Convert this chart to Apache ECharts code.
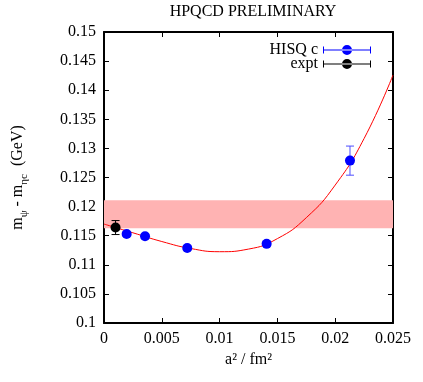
<!DOCTYPE html>
<html>
<head>
<meta charset="utf-8">
<script src="https://cdn.jsdelivr.net/npm/echarts@6/dist/echarts.min.js"></script>
<style>
  html, body { margin: 0; padding: 0; background: #fff; }
  #chart { width: 423px; height: 382px; }
</style>
</head>
<body>
<div id="chart"></div>
<script>
// lattice points: a^2 (fm^2), mass splitting (GeV), error
const hisqX = [0.00196, 0.00355, 0.0072, 0.01407, 0.02128];
const hisqY = [0.1153, 0.1149, 0.1129, 0.1136, 0.1279];
const hisqErr = [0.0004, 0.0004, 0.0004, 0.0004, 0.0025];
// experiment
const exptX = [0.001];
const exptY = [0.1164];
const exptErr = [0.0012];
// fit curve
const fitX = [0, 0.0025, 0.005, 0.0075, 0.01, 0.0125, 0.015, 0.0175, 0.02, 0.0225, 0.025];
const fitY = [0.1170, 0.1155, 0.1140, 0.1128, 0.11225, 0.1127, 0.1145, 0.1181, 0.1237, 0.1317, 0.1426];
// pink band
const band = [0.1163, 0.1211];
const xTicks = [0, 0.005, 0.01, 0.015, 0.02, 0.025];
const yTicks = [0.1, 0.105, 0.11, 0.115, 0.12, 0.125, 0.13, 0.135, 0.14, 0.145, 0.15];

const font = "'Liberation Serif', 'DejaVu Serif', serif";

function zip(xs, ys, es) {
  return xs.map((x, i) => es ? [x, ys[i], es[i]] : [x, ys[i]]);
}

function errorBar(color) {
  return function (params, api) {
    const x = api.value(0), y = api.value(1), e = api.value(2);
    const top = api.coord([x, y + e]);
    const bot = api.coord([x, y - e]);
    const w = 4;
    const style = { stroke: color, lineWidth: 1 };
    return {
      type: "group",
      children: [
        { type: "line", shape: { x1: top[0], y1: top[1], x2: bot[0], y2: bot[1] }, style: style },
        { type: "line", shape: { x1: top[0] - w, y1: top[1], x2: top[0] + w, y2: top[1] }, style: style },
        { type: "line", shape: { x1: bot[0] - w, y1: bot[1], x2: bot[0] + w, y2: bot[1] }, style: style }
      ]
    };
  };
}

const legendIcon = "path://M0,4.5h48v1h-48z M0,1.5h1v7h-1z M47,1.5h1v7h-1z M19,5a5,5 0 1,0 10,0a5,5 0 1,0 -10,0z";

const axisCommon = {
  type: "value",
  axisLine: { show: true, onZero: false, lineStyle: { color: "#000", width: 2 } },
  axisTick: { show: true, inside: true, length: 5, lineStyle: { color: "#000", width: 1 } },
  splitLine: { show: false },
  axisLabel: { color: "#000", fontFamily: font, fontSize: 16 }
};

const myChart = echarts.init(document.getElementById("chart"));
myChart.setOption({
  animation: false,
  title: {
    text: "HPQCD PRELIMINARY",
    left: 248,
    textAlign: "center",
    top: -1,
    textStyle: { fontFamily: font, fontSize: 16, fontWeight: "normal", color: "#000" }
  },
  legend: {
    orient: "vertical",
    right: 47,
    top: 37,
    align: "right",
    itemWidth: 48,
    itemHeight: 10,
    itemGap: -2,
    textStyle: { fontFamily: font, fontSize: 16, color: "#000", lineHeight: 16 },
    data: [
      { name: "HISQ c", icon: legendIcon },
      { name: "expt", icon: legendIcon }
    ]
  },
  grid: { left: 104, right: 30, top: 32, bottom: 59 },
  xAxis: [
    Object.assign({}, axisCommon, {
      min: xTicks[0], max: xTicks[xTicks.length - 1], interval: 0.005,
      axisLabel: Object.assign({}, axisCommon.axisLabel, { margin: 8, formatter: v => String(+v.toFixed(3)) }),
      name: "a² / fm²",
      nameLocation: "middle",
      nameGap: 25,
      nameTextStyle: { fontFamily: font, fontSize: 16, color: "#000" }
    }),
    Object.assign({}, axisCommon, {
      position: "top",
      min: xTicks[0], max: xTicks[xTicks.length - 1], interval: 0.005,
      axisLabel: { show: false }
    })
  ],
  yAxis: [
    Object.assign({}, axisCommon, {
      min: yTicks[0], max: yTicks[yTicks.length - 1], interval: 0.005,
      axisLabel: Object.assign({}, axisCommon.axisLabel, { margin: 8, formatter: v => String(+v.toFixed(3)) }),
      name: "{m|m}{s|ψ}{m| - m}{s|ηc}{m|  (GeV)}",
      nameLocation: "middle",
      nameGap: 74,
      nameTextStyle: {
        fontFamily: font,
        rich: {
          m: { fontFamily: font, fontSize: 16, color: "#000", lineHeight: 24, verticalAlign: "middle" },
          s: { fontFamily: font, fontSize: 11, color: "#000", lineHeight: 24, verticalAlign: "bottom" }
        }
      }
    }),
    Object.assign({}, axisCommon, {
      position: "right",
      min: yTicks[0], max: yTicks[yTicks.length - 1], interval: 0.005,
      axisLabel: { show: false }
    })
  ],
  series: [
    {
      name: "fit",
      type: "line",
      data: zip(fitX, fitY),
      smooth: true,
      showSymbol: false,
      lineStyle: { color: "#ff0000", width: 1 },
      z: 2,
      markArea: {
        silent: true,
        itemStyle: { color: "#ffb3b3" },
        data: [[{ xAxis: xTicks[0], yAxis: band[0] }, { xAxis: xTicks[xTicks.length - 1], yAxis: band[1] }]]
      }
    },
    {
      type: "custom",
      renderItem: errorBar("#4d4dff"),
      data: zip(hisqX, hisqY, hisqErr),
      z: 3
    },
    {
      type: "custom",
      renderItem: errorBar("#000"),
      data: zip(exptX, exptY, exptErr),
      z: 3
    },
    {
      name: "HISQ c",
      type: "scatter",
      data: zip(hisqX, hisqY),
      symbolSize: 10,
      itemStyle: { color: "#0000ff", opacity: 1 },
      z: 4
    },
    {
      name: "expt",
      type: "scatter",
      data: zip(exptX, exptY),
      symbolSize: 10,
      itemStyle: { color: "#000", opacity: 1 },
      z: 4
    }
  ]
});
</script>
</body>
</html>
